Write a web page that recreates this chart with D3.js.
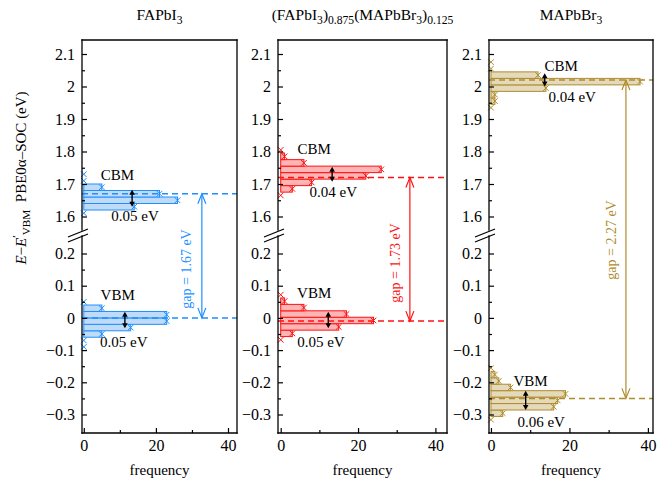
<!DOCTYPE html>
<html><head><meta charset="utf-8">
<script src="https://cdn.jsdelivr.net/npm/d3@7"></script>
<style>body{margin:0;background:#fff} svg text{font-family:"Liberation Serif","Times New Roman",serif !important;fill:#000}</style>
</head><body><svg id="c" width="668" height="484"></svg>
<script>
// ---------------- data ----------------
const panelTitles = [
  [{t:"FAPbI"},{t:"3",sub:true}],
  [{t:"(FAPbI"},{t:"3",sub:true},{t:")"},{t:"0.875",sub:true},{t:"(MAPbBr"},{t:"3",sub:true},{t:")"},{t:"0.125",sub:true}],
  [{t:"MAPbBr"},{t:"3",sub:true}]
];
const binWidth = 0.02;
const cbmStart = [1.60, 1.655, 1.925];           // lower edge of first bin
const cbmCounts = [
  [0, 14, 26, 21, 5, 0, 0],
  [0, 3, 8, 22, 26, 6, 1, 0],
  [0, 1, 1, 14, 38, 12, 0, 0]
];
const vbmStart = [-0.10, -0.078, -0.326];
const vbmCounts = [
  [0, 0, 5, 13, 23, 23, 5, 0],
  [0, 3, 15, 24, 17, 6, 1, 0],
  [0, 3, 16, 17, 19, 5, 2, 1, 0]
];
const cbmLevel = [1.67, 1.72, 2.02];
const vbmLevel = [0, -0.01, -0.25];
const gapLabels = ["gap = 1.67 eV", "gap = 1.73 eV", "gap = 2.27 eV"];
const cbmSpreadLabels = ["0.05 eV", "0.04 eV", "0.04 eV"];
const vbmSpreadLabels = ["0.05 eV", "0.05 eV", "0.06 eV"];
const upperTicks = [1.6, 1.7, 1.8, 1.9, 2, 2.1];
const upperMinor = [1.65, 1.75, 1.85, 1.95, 2.05];
const lowerTicks = [-0.3, -0.2, -0.1, 0, 0.1, 0.2];
const lowerMinor = [-0.25, -0.15, -0.05, 0.05, 0.15];
const xTicks = [0, 20, 40];
const xMinor = [10, 30];
const xLabel = "frequency";

// ---------------- layout ----------------
const SERIF = '"Liberation Serif","Times New Roman",serif';
const svg = d3.select("#c");
const frameTop = 40, breakTop = 230, breakBot = 236, frameBot = 433;
const yU = d3.scaleLinear().domain([1.6, 2.1]).range([216.5, 54]);
const yL = d3.scaleLinear().domain([-0.3, 0.2]).range([414.5, 253.5]);
const Y = v => v > 1 ? yU(v) : yL(v);
const panelPx = [[82, 237], [278, 447], [489, 653]];
const xDom = [[-0.5, 42.5], [-0.7, 43], [-0.5, 41.3]];
const colors = [
  {s: "#1E8FFF", f: "#BFDBF8"},
  {s: "#FF1111", f: "#FFB5B5"},
  {s: "#AE8C2E", f: "#E4D9BA"}
];
const ann = [
  {cbmLbl:[9.3,1.728], cbmSp:[14.2,1.603], vbmLbl:[9.4,0.071], vbmSp:[11.1,-0.074],
   arrC:[13.4,1.682,1.630], arrV:[11.4,0.019,-0.032], gapX:32.75, gapTextDx:-15, gapTextY:269},
  {cbmLbl:[8.66,1.807], cbmSp:[13.6,1.676], vbmLbl:[8.66,0.076], vbmSp:[10.4,-0.074],
   arrC:[13.3,1.753,1.707], arrV:[12.3,0.019,-0.032], gapX:33.4, gapTextDx:-14, gapTextY:263},
  {cbmLbl:[17.9,2.063], cbmSp:[20.7,1.969], vbmLbl:[10.1,-0.196], vbmSp:[12.8,-0.322],
   arrC:[13.7,2.041,2.0], arrV:[8.85,-0.226,-0.286], gapX:34.4, gapTextDx:-14, gapTextY:240}
];

function rich(sel, parts, base) {
  let cur = 0;
  parts.forEach(pt => {
    const target = pt.sub ? 4 : pt.sup ? -6 : 0;
    const ts = sel.append("tspan").text(pt.t).attr("dy", target - cur);
    if (pt.sub || pt.sup) ts.attr("font-size", base * 0.75);
    if (pt.i) ts.attr("font-style", "italic");
    cur = target;
  });
}
const fmt = d => String(+d.toFixed(2)).replace("-", "\u2212");

panelTitles.forEach((title, p) => {
  const [x0, x1] = panelPx[p];
  const x = d3.scaleLinear().domain(xDom[p]).range([x0, x1]);
  const col = colors[p];
  const g = svg.append("g");

  // histograms
  function hist(start, counts) {
    const bins = counts.map((c, i) => ({c, lo: start + i * binWidth, hi: start + (i + 1) * binWidth}));
    g.selectAll(null).data(bins.filter(b => b.c > 0)).enter().append("rect")
      .attr("x", x(0)).attr("y", b => Y(b.hi))
      .attr("width", b => x(b.c) - x(0)).attr("height", b => Y(b.lo) - Y(b.hi))
      .attr("fill", col.f).attr("stroke", col.s).attr("stroke-width", 1);
    g.selectAll(null).data(bins).enter().append("path")
      .attr("transform", b => `translate(${x(b.c)},${Y((b.lo + b.hi) / 2)})`)
      .attr("d", "M-2.8,-2.8L2.8,2.8M-2.8,2.8L2.8,-2.8")
      .attr("stroke", col.s).attr("stroke-width", 1).attr("fill", "none");
  }
  hist(cbmStart[p], cbmCounts[p]);
  hist(vbmStart[p], vbmCounts[p]);

  // dashed level lines
  [cbmLevel[p], vbmLevel[p]].forEach(v => {
    g.append("line").attr("x1", x0).attr("x2", x1).attr("y1", Y(v)).attr("y2", Y(v))
      .attr("stroke", col.s).attr("stroke-width", 1.5).attr("stroke-dasharray", "6,4");
  });

  // gap arrow
  const a = ann[p];
  const gx = x(a.gapX), gt = Y(cbmLevel[p]), gb = Y(vbmLevel[p]);
  g.append("line").attr("x1", gx).attr("x2", gx).attr("y1", gt).attr("y2", gb)
    .attr("stroke", col.s).attr("stroke-width", 1.2);
  g.append("path").attr("d", `M${gx-4},${gt+10}L${gx},${gt}L${gx+4},${gt+10}M${gx-4},${gb-10}L${gx},${gb}L${gx+4},${gb-10}`)
    .attr("stroke", col.s).attr("stroke-width", 1.2).attr("fill", "none");
  g.append("text").attr("transform", `translate(${gx + a.gapTextDx},${a.gapTextY}) rotate(-90)`)
    .attr("text-anchor", "middle").attr("dominant-baseline", "central")
    .attr("font-size", 14).style("fill", col.s).text(gapLabels[p]);

  // spread arrows
  [a.arrC, a.arrV].forEach(([fx, v1, v2]) => {
    const ax = x(fx), t = Y(v1), b = Y(v2);
    g.append("line").attr("x1", ax).attr("x2", ax).attr("y1", t + 3).attr("y2", b - 3)
      .attr("stroke", "#000").attr("stroke-width", 1.4);
    g.append("path").attr("d", `M${ax},${t}L${ax-2.8},${t+5}L${ax+2.8},${t+5}ZM${ax},${b}L${ax-2.8},${b-5}L${ax+2.8},${b-5}Z`)
      .attr("fill", "#000");
  });

  // text labels
  const lab = (pos, txt) => g.append("text").attr("x", x(pos[0])).attr("y", Y(pos[1]))
    .attr("text-anchor", "middle").attr("dominant-baseline", "central").attr("font-size", 15).text(txt);
  lab(a.cbmLbl, "CBM");
  lab(a.vbmLbl, "VBM");
  lab(a.cbmSp, cbmSpreadLabels[p]);
  lab(a.vbmSp, vbmSpreadLabels[p]);

  // axes
  const styleAxis = sel => {
    sel.attr("font-family", SERIF).attr("font-size", 16);
    sel.select(".domain").remove();
    sel.selectAll("text").attr("font-size", 16).style("font-family", SERIF).style("fill", "#000");
    sel.selectAll("line").attr("stroke", "#000").attr("stroke-width", 1.2);
  };
  g.append("g").attr("transform", `translate(${x0},0)`)
    .call(d3.axisLeft(yU).tickValues(upperTicks).tickSizeInner(-5).tickSizeOuter(0).tickPadding(7).tickFormat(fmt)).call(styleAxis);
  g.append("g").attr("transform", `translate(${x0},0)`)
    .call(d3.axisLeft(yU).tickValues(upperMinor).tickSizeInner(-3).tickSizeOuter(0).tickFormat("")).call(styleAxis);
  g.append("g").attr("transform", `translate(${x0},0)`)
    .call(d3.axisLeft(yL).tickValues(lowerTicks).tickSizeInner(-5).tickSizeOuter(0).tickPadding(7).tickFormat(fmt)).call(styleAxis);
  g.append("g").attr("transform", `translate(${x0},0)`)
    .call(d3.axisLeft(yL).tickValues(lowerMinor).tickSizeInner(-3).tickSizeOuter(0).tickFormat("")).call(styleAxis);
  g.append("g").attr("transform", `translate(0,${frameBot})`)
    .call(d3.axisBottom(x).tickValues(xTicks).tickSizeInner(-5).tickSizeOuter(0).tickPadding(7).tickFormat(d3.format("d"))).call(styleAxis);
  g.append("g").attr("transform", `translate(0,${frameBot})`)
    .call(d3.axisBottom(x).tickValues(xMinor).tickSizeInner(-3).tickSizeOuter(0).tickFormat("")).call(styleAxis);

  // frame with break
  const fr = [[x0, frameTop, x1, frameTop], [x1, frameTop, x1, frameBot], [x0, frameBot, x1, frameBot],
              [x0, frameTop, x0, breakTop], [x0, breakBot, x0, frameBot]];
  fr.forEach(([a1, b1, a2, b2]) => g.append("line").attr("x1", a1).attr("y1", b1).attr("x2", a2).attr("y2", b2)
    .attr("stroke", "#000").attr("stroke-width", 1.3).attr("stroke-linecap", "square"));
  [0, 5].forEach(o => g.append("line")
    .attr("x1", x0 - 14).attr("y1", 237 + o).attr("x2", x0 + 6).attr("y2", 229 + o)
    .attr("stroke", "#000").attr("stroke-width", 1.2));

  // titles
  const tt = svg.append("text").attr("x", (x0 + x1) / 2).attr("y", 20).attr("text-anchor", "middle").attr("font-size", 15.5);
  rich(tt, title, 15.5);
  svg.append("text").attr("x", (x0 + x1) / 2).attr("y", 475).attr("text-anchor", "middle").attr("font-size", 15).text(xLabel);
});

// y axis title
const yl = svg.append("text").attr("transform", "translate(26,178) rotate(-90)").attr("text-anchor", "middle").attr("font-size", 15);
rich(yl, [{t:"E", i:true}, {t:"\u2212"}, {t:"E", i:true}, {t:"\u2032", sup:true}, {t:"VBM", sub:true}, {t:"\u00A0\u00A0PBE0\u03B1\u2013SOC (eV)"}], 15);
</script>
</body></html>
